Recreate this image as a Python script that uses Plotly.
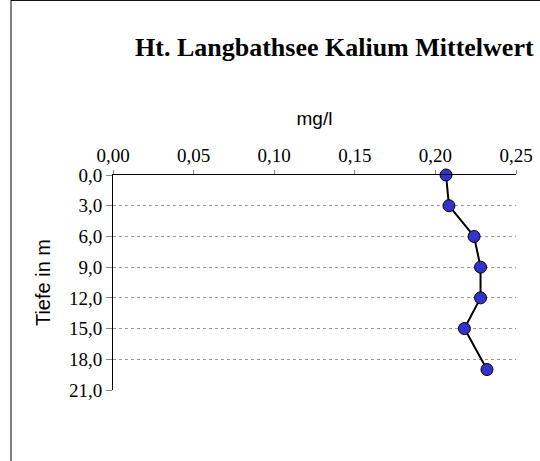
import plotly.graph_objects as go

depths = [0, 3, 6, 9, 12, 15, 19]
kalium = [0.2066, 0.2084, 0.224, 0.228, 0.228, 0.218, 0.232]
x_ticks = [0, 0.05, 0.10, 0.15, 0.20, 0.25]
x_labels = ["0,00", "0,05", "0,10", "0,15", "0,20", "0,25"]
y_ticks = [0, 3, 6, 9, 12, 15, 18, 21]
y_labels = ["0,0", "3,0", "6,0", "9,0", "12,0", "15,0", "18,0", "21,0"]

W, H = 540, 461
L, R, T, B = 113, 24, 175, 71

fig = go.Figure(go.Scatter(
    x=kalium, y=depths, mode="lines+markers",
    line=dict(color="black", width=2),
    marker=dict(size=12, color="#3333cc", line=dict(color="black", width=1)),
    cliponaxis=False, showlegend=False))

serif = "Liberation Serif, Times New Roman, serif"
sans = "Liberation Sans, Arial, sans-serif"
fig.update_layout(
    width=W, height=H, margin=dict(l=L, r=R, t=T, b=B, autoexpand=False),
    paper_bgcolor="white", plot_bgcolor="white",
    xaxis=dict(side="top", range=[0, 0.25], tickvals=x_ticks, ticktext=x_labels, automargin=False,
               showgrid=False, zeroline=False, ticks="outside", ticklen=4,
               tickcolor="#888", showline=True, linecolor="black", mirror=False,
               tickfont=dict(family=serif, size=19, color="black"),
               title=dict(text="mg/l", font=dict(family=sans, size=19, color="black"), standoff=14)),
    yaxis=dict(range=[21, 0], tickvals=y_ticks, ticktext=y_labels, automargin=False,
               showgrid=True, gridcolor="#999", griddash="dot", gridwidth=1,
               zeroline=False, ticks="outside", ticklen=6, tickcolor="#888",
               showline=True, linecolor="black",
               tickfont=dict(family=serif, size=19, color="black"),
               title=dict(text="Tiefe in m", font=dict(family=sans, size=20, color="black"), standoff=12)),
    shapes=[
        dict(type="line", xref="paper", yref="paper", x0=(11 - L) / (W - L - R), x1=(11 - L) / (W - L - R),
             y0=-B / (H - T - B), y1=1 + T / (H - T - B), line=dict(color="black", width=1)),
        dict(type="line", xref="paper", yref="paper", x0=(11 - L) / (W - L - R), x1=1 + R / (W - L - R),
             y0=1 + T / (H - T - B) - 0.002, y1=1 + T / (H - T - B) - 0.002, line=dict(color="black", width=1)),
    ],
    annotations=[dict(text="<b>Ht. Langbathsee Kalium Mittelwert</b>", xref="paper", yref="paper",
                      x=(133 - L) / (W - L - R), y=1 + (T - 47) / (H - T - B), xanchor="left", yanchor="middle",
                      showarrow=False, font=dict(family=serif, size=26, color="black"))],
)
fig.write_html("out.html", config={"displayModeBar": False}, post_script="document.body.style.margin='0';")
